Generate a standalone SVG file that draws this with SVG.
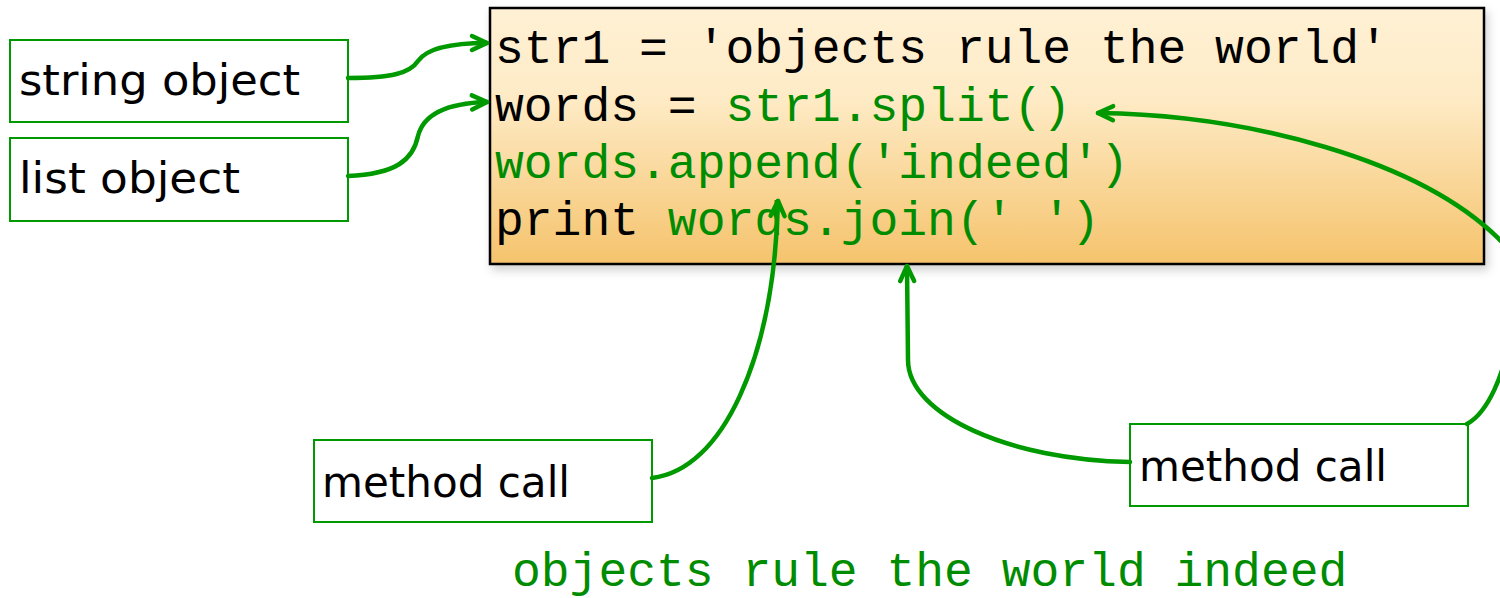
<svg xmlns="http://www.w3.org/2000/svg" width="1500" height="598" viewBox="0 0 1500 598">
  <style>
    .code { font-family: "Liberation Mono", "Courier New", monospace; font-size: 48px; white-space: pre; }
    .blk { fill: #000000; }
    .grn { fill: #008c00; }
    .label-box { fill: #ffffff; stroke: #009a00; stroke-width: 2; }
    .label { font-family: "DejaVu Sans", "Noto Sans", sans-serif; font-size: 42px; fill: #000000; }
    .conn { fill: none; stroke: #009900; stroke-width: 4.5; stroke-linecap: round; marker-end: url(#head); }
    .conn-plain { fill: none; stroke: #009900; stroke-width: 4.5; stroke-linecap: round; }
  </style>
  <defs>
    <linearGradient id="codeFill" x1="0" y1="0" x2="0" y2="1">
      <stop offset="0" stop-color="#fff1d5"/>
      <stop offset="0.35" stop-color="#feebc6"/>
      <stop offset="1" stop-color="#f5c36c"/>
    </linearGradient>
    <filter id="shadow" x="-5%" y="-10%" width="110%" height="130%">
      <feDropShadow dx="3" dy="5" stdDeviation="5" flood-color="#000000" flood-opacity="0.18"/>
    </filter>
    <marker id="head" markerUnits="userSpaceOnUse" viewBox="-18 -10 20 20" refX="0" refY="0" markerWidth="20" markerHeight="20" orient="auto" overflow="visible">
      <path d="M-15,-7 L0,0 L-15,7" fill="none" stroke="#009900" stroke-width="4.5" stroke-linecap="round" stroke-linejoin="round"/>
    </marker>
  </defs>

  <rect width="1500" height="598" fill="#ffffff"/>

  <!-- code panel -->
  <g id="code-panel">
    <rect x="490" y="8" width="994" height="256" fill="url(#codeFill)" stroke="#000000" stroke-width="2.5" filter="url(#shadow)"/>
    <text class="code blk" x="495" y="63">str1 = 'objects rule the world'</text>
    <text class="code" x="495" y="120.5"><tspan class="blk">words = </tspan><tspan class="grn">str1.split()</tspan></text>
    <text class="code grn" x="495" y="177.5">words.append('indeed')</text>
    <text class="code" x="495" y="235"><tspan class="blk">print </tspan><tspan class="grn">words.join(' ')</tspan></text>
  </g>

  <!-- annotation boxes -->
  <g id="string-object">
    <rect class="label-box" x="10" y="40" width="338" height="82"/>
    <text class="label" x="19" y="95" textLength="281" lengthAdjust="spacingAndGlyphs">string object</text>
  </g>
  <g id="list-object">
    <rect class="label-box" x="10" y="138" width="338" height="83"/>
    <text class="label" x="19" y="193" textLength="221" lengthAdjust="spacingAndGlyphs">list object</text>
  </g>
  <g id="method-call-left">
    <rect class="label-box" x="314" y="440" width="338" height="82"/>
    <text class="label" x="322" y="497" textLength="248" lengthAdjust="spacingAndGlyphs">method call</text>
  </g>
  <g id="method-call-right">
    <rect class="label-box" x="1130" y="424" width="338" height="82"/>
    <text class="label" x="1139" y="481" textLength="248" lengthAdjust="spacingAndGlyphs">method call</text>
  </g>

  <!-- connectors -->
  <g id="connectors">
    <path class="conn" d="M348,78 C392,78 410,73 418,61 C427,48 452,43 487,43"/>
    <path class="conn" d="M348,176 C396,174 413,160 418,136 C424,112 452,103 487,102"/>
    <path class="conn" d="M652,478 C722,470 774,360 778,201"/>
    <path class="conn" d="M1130,462 C1010,460 908,415 908,360 L907,266"/>
    <path class="conn-plain" d="M1467,424 C1510,400 1530,270 1500,240"/>
    <path class="conn" d="M1500,240 C1420,160 1250,115 1098,113"/>
  </g>

  <!-- program output -->
  <g id="output">
    <text class="code grn" x="512" y="586">objects rule the world indeed</text>
  </g>
</svg>
